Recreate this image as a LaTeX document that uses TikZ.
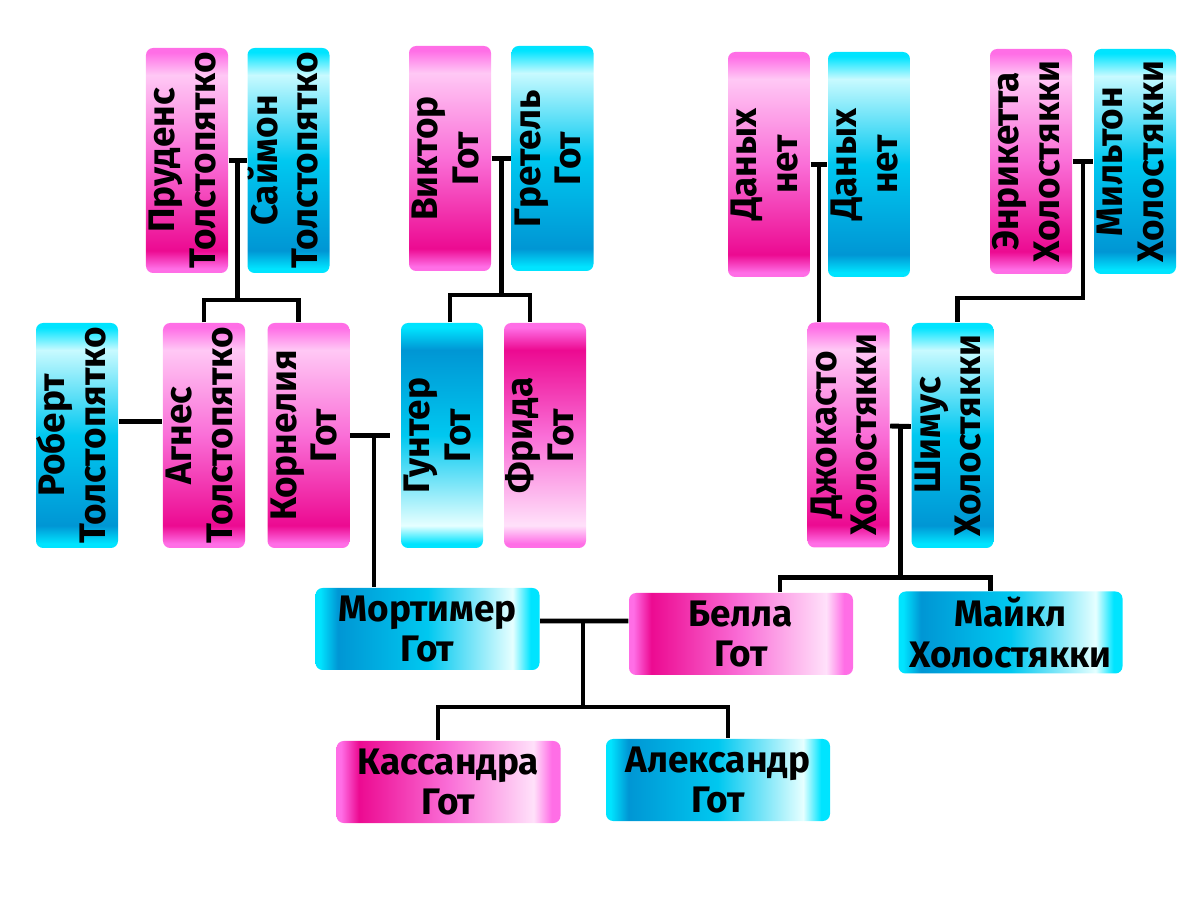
\documentclass[tikz,border=0pt]{standalone}
\usepackage{fontspec}
\setmainfont{Fira Sans}
\usepackage{graphicx}
\usetikzlibrary{calc}

\definecolor{pkedge}{RGB}{255,110,230}
\definecolor{pkdeep}{RGB}{236,10,145}
\definecolor{pkmid}{RGB}{250,110,215}
\definecolor{pklite}{RGB}{255,200,245}
\definecolor{pkpale}{RGB}{255,225,250}
\definecolor{cyedge}{RGB}{0,228,255}
\definecolor{cydeep}{RGB}{0,150,212}
\definecolor{cymid}{RGB}{0,200,240}
\definecolor{cylite}{RGB}{200,250,255}
\definecolor{cypale}{RGB}{230,255,255}

% box fills (25bp..75bp covers the box)
\pgfdeclareverticalshading{pinkup}{100bp}{color(0bp)=(pkedge); color(26bp)=(pkedge);
  color(30bp)=(pkdeep); color(50bp)=(pkmid); color(69bp)=(pklite); color(74bp)=(pkedge); color(100bp)=(pkedge)}
\pgfdeclareverticalshading{cyanup}{100bp}{color(0bp)=(cyedge); color(26bp)=(cyedge);
  color(30bp)=(cydeep); color(50bp)=(cymid); color(69bp)=(cylite); color(74bp)=(cyedge); color(100bp)=(cyedge)}
\pgfdeclareverticalshading{pinkdown}{100bp}{color(0bp)=(pkedge); color(26bp)=(pkedge);
  color(30bp)=(pkpale); color(50bp)=(pkmid); color(69bp)=(pkdeep); color(74bp)=(pkedge); color(100bp)=(pkedge)}
\pgfdeclareverticalshading{cyandown}{100bp}{color(0bp)=(cyedge); color(26bp)=(cyedge);
  color(30bp)=(cypale); color(50bp)=(cymid); color(69bp)=(cydeep); color(74bp)=(cyedge); color(100bp)=(cyedge)}
\pgfdeclarehorizontalshading{pinkright}{100bp}{color(0bp)=(pkedge); color(26bp)=(pkedge);
  color(30bp)=(pkdeep); color(50bp)=(pkmid); color(69bp)=(pkpale); color(73bp)=(pkedge); color(100bp)=(pkedge)}
\pgfdeclarehorizontalshading{cyanright}{100bp}{color(0bp)=(cyedge); color(26bp)=(cyedge);
  color(30bp)=(cydeep); color(50bp)=(cymid); color(69bp)=(cypale); color(73bp)=(cyedge); color(100bp)=(cyedge)}

\newcommand{\vname}[2]{\rotatebox{90}{\begin{tabular}{@{}c@{}}#1\\#2\end{tabular}}}

\begin{document}
\begin{tikzpicture}[
    person/.style={rounded corners=2pt, inner sep=0pt, align=center,
      font=\fontsize{10.5}{11.4}\selectfont\bfseries},
    vbox/.style={person, minimum width=0.82cm, minimum height=2.25cm},
    hbox/.style={person, minimum width=2.24cm, minimum height=0.82cm},
    link/.style={line width=1.4pt, black},
  ]
    \useasboundingbox (0,0) rectangle (12,9);

    % Grandparents
    \node[vbox, shading=pinkup]  (prudens)   at (1.87,7.395)  {\vname{Пруденс}{Толстопятко}};
    \node[vbox, shading=cyanup]  (saimon)    at (2.885,7.395) {\vname{Саймон}{Толстопятко}};
    \node[vbox, shading=pinkup]  (viktor)    at (4.50,7.415)  {\vname{Виктор}{Гот}};
    \node[vbox, shading=cyanup]  (gretel)    at (5.525,7.415) {\vname{Гретель}{Гот}};
    \node[vbox, shading=pinkup]  (nodataA)   at (7.69,7.355)  {\vname{Даных}{нет}};
    \node[vbox, shading=cyanup]  (nodataB)   at (8.69,7.355)  {\vname{Даных}{нет}};
    \node[vbox, shading=pinkup]  (enriketta) at (10.31,7.385) {\vname{Энрикетта}{Холостякки}};
    \node[vbox, shading=cyanup]  (milton)    at (11.35,7.385) {\vname{Мильтон}{Холостякки}};

    % Parents
    \node[vbox, shading=cyanup]   (robert)    at (0.77,4.645)  {\vname{Роберт}{Толстопятко}};
    \node[vbox, shading=pinkup]   (agnes)     at (2.04,4.645)  {\vname{Агнес}{Толстопятко}};
    \node[vbox, shading=pinkup]   (kornelia)  at (3.085,4.645) {\vname{Корнелия}{Гот}};
    \node[vbox, shading=cyandown] (gunter)    at (4.42,4.645)  {\vname{Гунтер}{Гот}};
    \node[vbox, shading=pinkdown] (frida)     at (5.45,4.645)  {\vname{Фрида}{Гот}};
    \node[vbox, shading=pinkup]   (dzhokasto) at (8.485,4.65)  {\vname{Джокасто}{Холостякки}};
    \node[vbox, shading=cyanup]   (shimus)    at (9.525,4.645) {\vname{Шимус}{Холостякки}};

    % Couple
    \node[hbox, shading=cyanright] (mortimer) at (4.275,2.71) {Мортимер\\Гот};
    \node[hbox, shading=pinkright] (bella)    at (7.41,2.66)  {Белла\\Гот};
    \node[hbox, shading=cyanright] (maikl)    at (10.105,2.675) {Майкл\\Холостякки};

    % Children
    \node[hbox, shading=pinkright] (kassandra) at (4.485,1.18) {Кассандра\\Гот};
    \node[hbox, shading=cyanright] (aleksandr) at (7.18,1.20)  {Александр\\Гот};

    % Пруденс + Саймон
    \draw[link] (prudens.east) -- (saimon.west);
    \coordinate (ps) at ($(prudens.east)!.5!(saimon.west)$);
    \draw[link] (ps) -- ++(0,-1.395) coordinate (psbar);
    \draw[link] (agnes.north) |- (psbar) -| ([xshift=-1mm]kornelia.north);

    % Виктор + Гретель
    \draw[link] (viktor.east) -- (gretel.west);
    \coordinate (vg) at ($(viktor.east)!.5!(gretel.west)$);
    \draw[link] (vg) -- ++(0,-1.365) coordinate (vgbar);
    \draw[link] ([xshift=.8mm]gunter.north) |- (vgbar) -| ([xshift=-1.5mm]frida.north);

    % Даных нет + Даных нет
    \draw[link] (nodataA.east) -- (nodataB.west);
    \coordinate (nn) at ($(nodataA.east)!.5!(nodataB.west)$);
    \draw[link] (nn) -- (nn |- dzhokasto.north);

    % Энрикетта + Мильтон
    \draw[link] (enriketta.east) -- (milton.west);
    \coordinate (em) at ($(enriketta.east)!.5!(milton.west)$);
    \draw[link] (em) -- ++(0,-1.365) -| ([xshift=.5mm]shimus.north);

    % Роберт + Агнес
    \draw[link] ([yshift=1.4mm]robert.east) -- ([yshift=1.4mm]agnes.west);

    % Корнелия + Гунтер
    \draw[link, shorten >=1mm] (kornelia.east) -- (gunter.west);
    \coordinate (kg) at (3.74,4.645);
    \draw[link] (kg) -- (kg |- mortimer.north);

    % Джокасто + Шимус
    \draw[link] ([yshift=.9mm]dzhokasto.east) -- ([yshift=.9mm]shimus.west);
    \coordinate (ds) at ($(dzhokasto.east)!.5!(shimus.west)+(0,.09)$);
    \draw[link] (ds) -- ++(0,-1.51) coordinate (dsbar);
    \draw[link] ([xshift=3.9mm]bella.north) |- (dsbar) -| ([xshift=-2mm]maikl.north);

    % Мортимер + Белла
    \draw[link] ([yshift=.8mm]mortimer.east) -- ([yshift=1.3mm]bella.west);
    \coordinate (mb) at (5.83,2.79);
    \draw[link] (mb) -- ++(0,-0.86) coordinate (mbbar);
    \draw[link] ([xshift=-1.05mm]kassandra.north) |- (mbbar) -| ([xshift=1mm]aleksandr.north);
\end{tikzpicture}
\end{document}
